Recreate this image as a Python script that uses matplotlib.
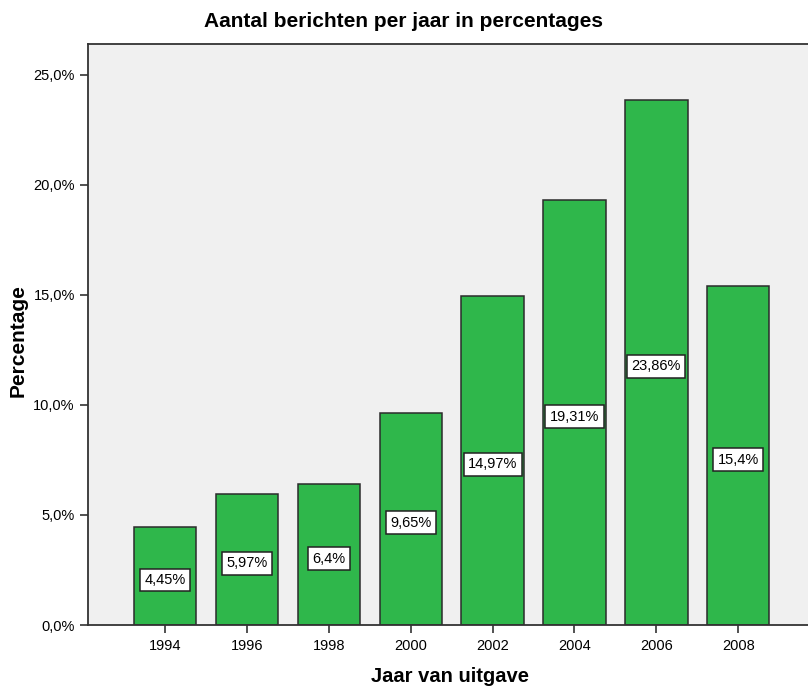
import matplotlib
matplotlib.use('Agg')
import matplotlib.pyplot as plt
import numpy as np

# Share of messages per publication year
years = ['1994', '1996', '1998', '2000', '2002', '2004', '2006', '2008']
percentages = [4.45, 5.97, 6.4, 9.65, 14.97, 19.31, 23.86, 15.4]
value_labels = ['4,45%', '5,97%', '6,4%', '9,65%', '14,97%', '19,31%', '23,86%', '15,4%']
y_ticks = [0, 5, 10, 15, 20, 25]
y_tick_labels = ['0,0%', '5,0%', '10,0%', '15,0%', '20,0%', '25,0%']

plt.rcParams['font.family'] = ['Liberation Sans', 'DejaVu Sans']

fig = plt.figure(figsize=(8.08, 6.87), dpi=100)
ax = fig.add_axes([0.1089, 0.0902, 0.891, 0.8457])
ax.set_facecolor('#f0f0f0')

x = np.arange(len(years))
ax.bar(x, percentages, width=0.76, color='#2fb74b', edgecolor='#2b2b2b',
       linewidth=1.1, zorder=2)

# value boxes in the middle of each bar
for xi, val, lab in zip(x, percentages, value_labels):
    ax.annotate(lab, xy=(xi, val / 2), xytext=(0, -4), textcoords='offset pixels',
                ha='center', va='center', fontsize=10.5, zorder=3,
                bbox=dict(boxstyle='square,pad=0.3', facecolor='white',
                          edgecolor='#222222', linewidth=1.1))

ax.set_xlim(-0.94, 7.85)
ax.set_ylim(0, 26.4)
ax.set_xticks(x)
ax.set_xticklabels(years, fontsize=10.5)
ax.set_yticks(y_ticks)
ax.set_yticklabels(y_tick_labels, fontsize=10.5)
ax.tick_params(axis='both', direction='out', length=6, width=1.2, color='#333333')
ax.tick_params(axis='x', pad=4)

for side in ['left', 'bottom', 'top']:
    ax.spines[side].set_color('#333333')
    ax.spines[side].set_linewidth(1.3)
ax.spines['right'].set_visible(False)

fig.text(0.4994, 0.968, 'Aantal berichten per jaar in percentages', ha='center',
         va='center', fontsize=15, fontweight='bold')
fig.text(0.5575, 0.0146, 'Jaar van uitgave', ha='center', va='center',
         fontsize=14.5, fontweight='bold')
fig.text(0.022, 0.505, 'Percentage', ha='center', va='center', rotation=90,
         fontsize=15, fontweight='bold')

fig.savefig('out.png', dpi=100, facecolor='white')
